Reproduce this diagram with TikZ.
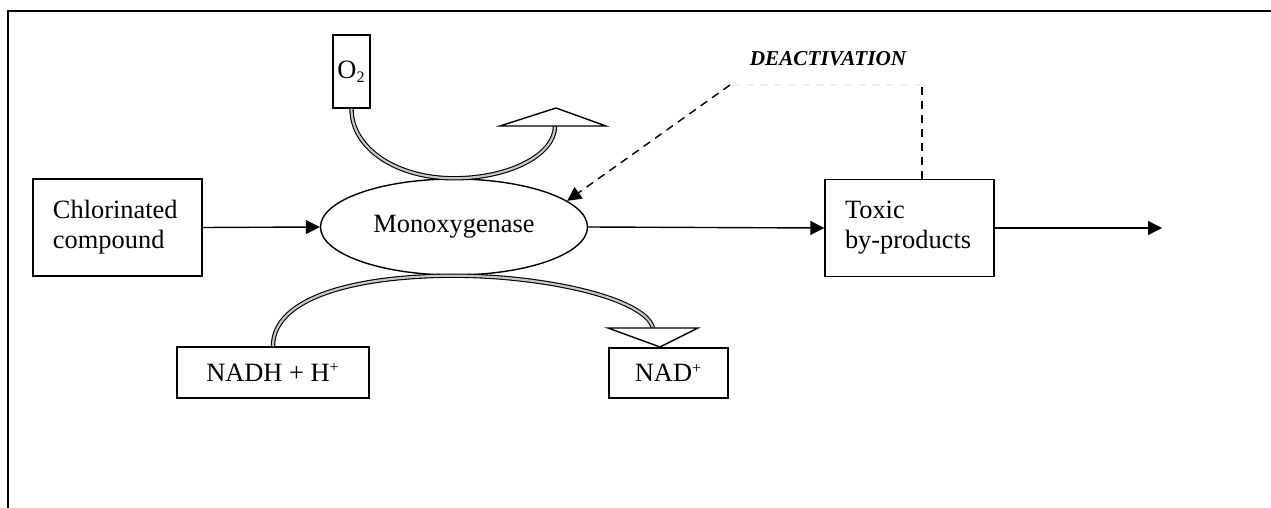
\documentclass[tikz,border=0pt]{standalone}
\usepackage{fontspec}
\setmainfont{Liberation Serif}
\usetikzlibrary{shapes.geometric,arrows.meta,calc}
\newcommand{\mysub}[1]{\textsubscript{\fontsize{8}{8}\selectfont #1}}
\newcommand{\mysup}[1]{\textsuperscript{\fontsize{8}{8}\selectfont #1}}
\begin{document}
\begin{tikzpicture}[x=0.5pt,y=-0.5pt,
  every node/.style={font=\fontsize{13.2}{15}\selectfont},
  boxl/.style={draw,line width=0.7pt,rectangle,align=left,text width=64.5pt,inner xsep=10pt,minimum height=48.5pt},
  boxc/.style={draw,line width=0.7pt,rectangle,align=center,inner sep=0pt},
  arr/.style={line width=0.7pt,-{Triangle[length=7pt,width=7pt]}},
  dbl/.style={line width=0.55pt,double=gray!45,double distance=1.1pt},
  hollow/.style={draw,line width=0.7pt,fill=white,line join=miter},
  dsh/.style={line width=0.7pt,dash pattern=on 4pt off 3pt}]
\useasboundingbox (0,0) rectangle (1271,508);
\draw[line width=1pt] (8,508) -- (8,11) -- (1271,11);

\node[boxl] (chl) at (117.5,227.5) {Chlorinated\\compound};
\node[draw,line width=0.7pt,ellipse,minimum width=133.5pt,minimum height=48pt,inner sep=0pt] (mono) at (454,227) {Monoxygenase};
\node[boxl] (tox) at (909.5,228) {Toxic\\by-products};
\node[boxc,minimum width=18.5pt,minimum height=36.5pt] (o2) at (351.5,71.5) {O\mysub{2}};
\node[boxc,minimum width=96pt,minimum height=25.5pt] (nadh) at (273,372.5) {NADH + H\mysup{+}};
\node[boxc,minimum width=59.5pt,minimum height=25pt] (nad) at (668.5,373) {NAD\mysup{+}};
\node[font=\fontsize{10.6}{12}\selectfont\bfseries\itshape] (deact) at (828,59) {DEACTIVATION};

\coordinate (out) at (1162,228);
\coordinate (upb) at (555,126);
\coordinate (dnb) at (653,328);
\coordinate (dk) at (922,85);
\coordinate (dc) at (730,85);

\draw[arr] (chl.east) -- (mono.west);
\draw[arr] (mono.east) -- (tox.west);
\draw[arr] (tox.east) -- (out);

\draw[dbl] (o2.south) .. controls +(0,40) and +(-57,0) .. (mono.north) .. controls +(55,0) and +(0,29) .. (upb);
\draw[hollow] (500,126) -- (606,126) -- (556,108) -- cycle;

\draw[dbl] (nadh.north) .. controls +(0,-50) and +(-95,0) .. (mono.south) .. controls +(90,0) and +(-8,-30) .. (dnb);
\draw[hollow] (608,328) -- (698,328) -- (660,347) -- cycle;

\draw[dsh] (tox.north -| dk) -- (dk);
\draw[dsh,gray!12] (dk) -- (dc);
\draw[dsh,-{Triangle[length=7pt,width=7pt]}] (dc) -- (mono.13);
\end{tikzpicture}
\end{document}
